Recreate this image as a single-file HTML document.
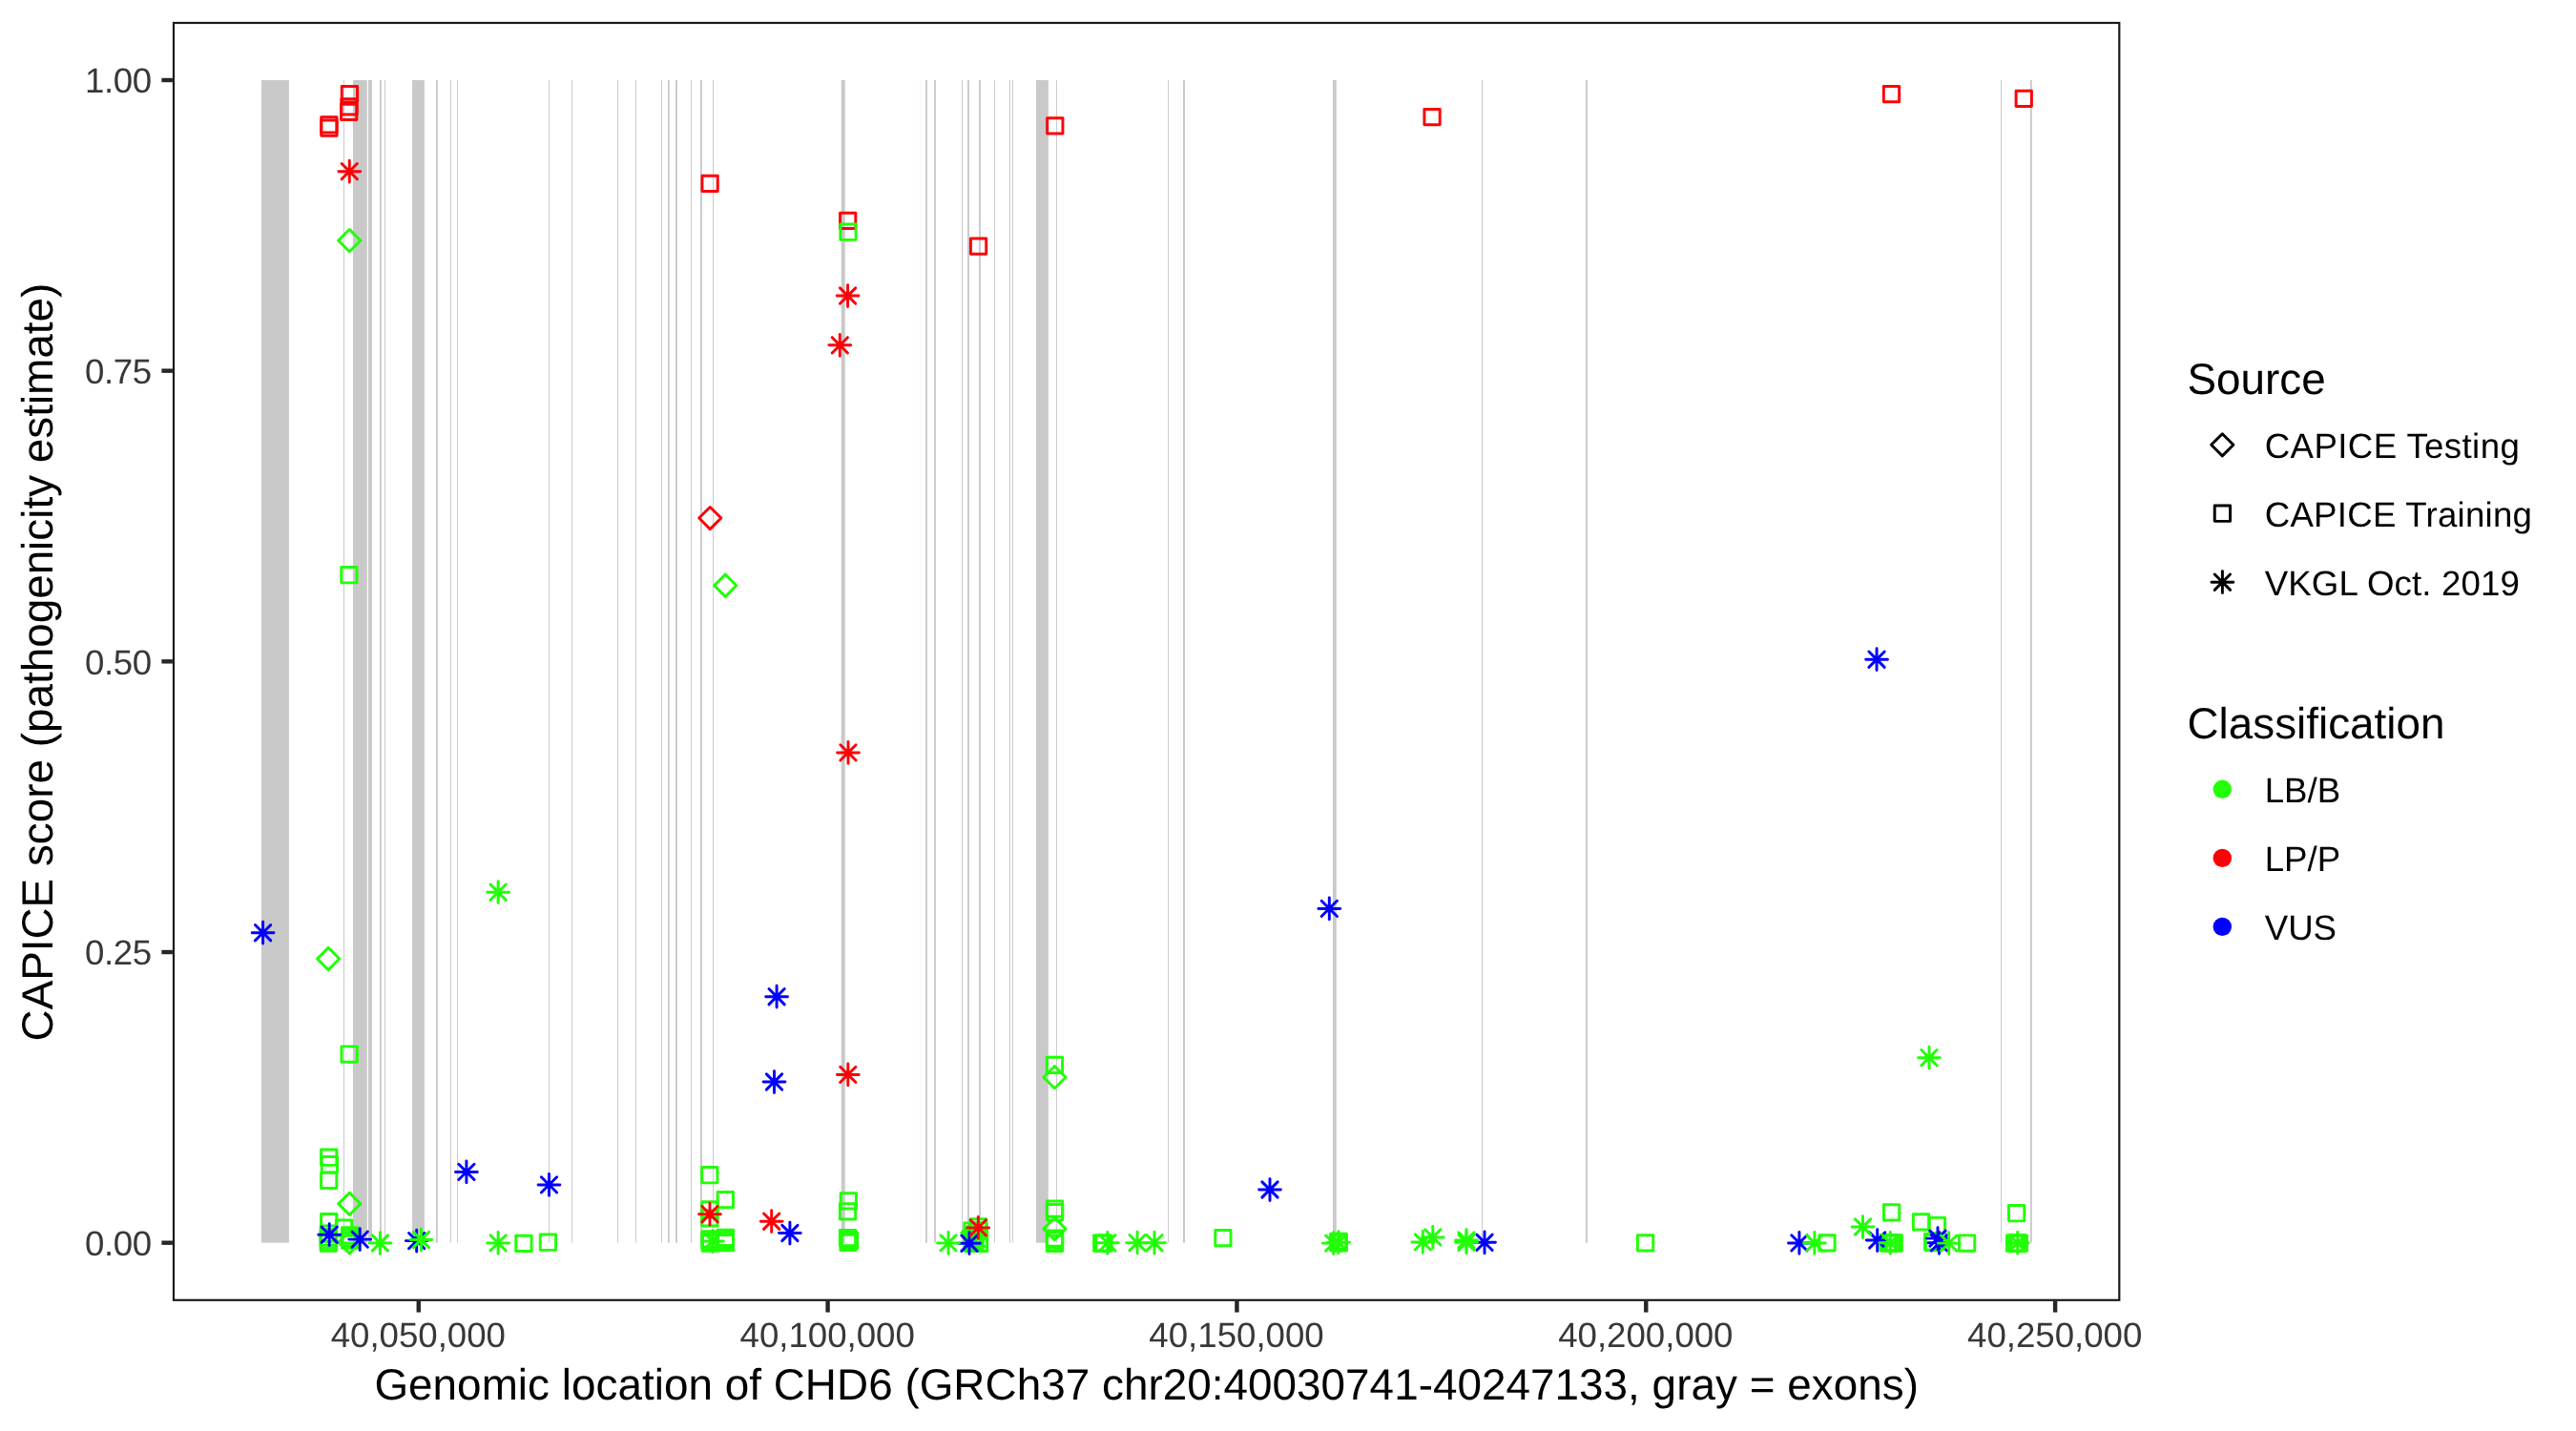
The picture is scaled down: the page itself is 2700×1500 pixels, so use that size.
<!DOCTYPE html>
<html><head><meta charset="utf-8"><title>CAPICE CHD6</title>
<style>html,body{margin:0;padding:0;background:#fff;}svg{display:block;will-change:transform;}text{font-family:"Liberation Sans",sans-serif;text-rendering:geometricPrecision;}</style></head><body>
<svg width="2700" height="1500" viewBox="0 0 2700 1500">
<rect width="2700" height="1500" fill="#fff"/>
<g>
<rect x="274.00" y="84.00" width="28.90" height="1218.70" fill="#C9C9C9"/>
<rect x="360.00" y="84.00" width="1.00" height="1218.70" fill="#CBCBCB"/>
<rect x="370.00" y="84.00" width="14.80" height="1218.70" fill="#C9C9C9"/>
<rect x="386.00" y="84.00" width="4.00" height="1218.70" fill="#C9C9C9"/>
<rect x="398.00" y="84.00" width="1.80" height="1218.70" fill="#C9C9C9"/>
<rect x="403.00" y="84.00" width="1.00" height="1218.70" fill="#CBCBCB"/>
<rect x="432.00" y="84.00" width="12.90" height="1218.70" fill="#C9C9C9"/>
<rect x="457.00" y="84.00" width="1.80" height="1218.70" fill="#C9C9C9"/>
<rect x="472.00" y="84.00" width="1.00" height="1218.70" fill="#CBCBCB"/>
<rect x="479.00" y="84.00" width="1.00" height="1218.70" fill="#CBCBCB"/>
<rect x="575.00" y="84.00" width="1.00" height="1218.70" fill="#CBCBCB"/>
<rect x="599.00" y="84.00" width="1.00" height="1218.70" fill="#CBCBCB"/>
<rect x="647.00" y="84.00" width="1.00" height="1218.70" fill="#CBCBCB"/>
<rect x="666.00" y="84.00" width="1.00" height="1218.70" fill="#CBCBCB"/>
<rect x="693.00" y="84.00" width="1.00" height="1218.70" fill="#CBCBCB"/>
<rect x="700.00" y="84.00" width="1.75" height="1218.70" fill="#C9C9C9"/>
<rect x="708.00" y="84.00" width="1.90" height="1218.70" fill="#C9C9C9"/>
<rect x="724.00" y="84.00" width="1.00" height="1218.70" fill="#CBCBCB"/>
<rect x="734.00" y="84.00" width="1.90" height="1218.70" fill="#C9C9C9"/>
<rect x="747.00" y="84.00" width="1.00" height="1218.70" fill="#CBCBCB"/>
<rect x="881.75" y="84.00" width="4.00" height="1218.70" fill="#C9C9C9"/>
<rect x="970.00" y="84.00" width="1.90" height="1218.70" fill="#C9C9C9"/>
<rect x="979.00" y="84.00" width="1.90" height="1218.70" fill="#C9C9C9"/>
<rect x="1008.00" y="84.00" width="1.00" height="1218.70" fill="#CBCBCB"/>
<rect x="1014.00" y="84.00" width="1.90" height="1218.70" fill="#C9C9C9"/>
<rect x="1026.00" y="84.00" width="1.90" height="1218.70" fill="#C9C9C9"/>
<rect x="1042.00" y="84.00" width="1.00" height="1218.70" fill="#CBCBCB"/>
<rect x="1058.00" y="84.00" width="1.00" height="1218.70" fill="#CBCBCB"/>
<rect x="1061.00" y="84.00" width="1.00" height="1218.70" fill="#CBCBCB"/>
<rect x="1086.00" y="84.00" width="12.80" height="1218.70" fill="#C9C9C9"/>
<rect x="1107.00" y="84.00" width="1.00" height="1218.70" fill="#CBCBCB"/>
<rect x="1224.00" y="84.00" width="1.00" height="1218.70" fill="#CBCBCB"/>
<rect x="1240.00" y="84.00" width="2.00" height="1218.70" fill="#C9C9C9"/>
<rect x="1397.00" y="84.00" width="3.75" height="1218.70" fill="#C9C9C9"/>
<rect x="1553.00" y="84.00" width="1.00" height="1218.70" fill="#CBCBCB"/>
<rect x="1662.00" y="84.00" width="1.90" height="1218.70" fill="#C9C9C9"/>
<rect x="2097.00" y="84.00" width="1.00" height="1218.70" fill="#CBCBCB"/>
<rect x="2127.90" y="84.00" width="1.90" height="1218.70" fill="#C9C9C9"/>
<rect x="964.00" y="84.00" width="0.80" height="1218.70" fill="#F4F4F4"/>
</g>
<g>
<rect x="358.25" y="90.55" width="16.30" height="16.30" fill="none" stroke="#FB0207" stroke-width="2.95" stroke-linejoin="round"/>
<rect x="357.85" y="103.65" width="16.30" height="16.30" fill="none" stroke="#FB0207" stroke-width="2.95" stroke-linejoin="round"/>
<rect x="357.55" y="109.15" width="16.30" height="16.30" fill="none" stroke="#FB0207" stroke-width="2.95" stroke-linejoin="round"/>
<rect x="336.75" y="122.65" width="16.30" height="16.30" fill="none" stroke="#FB0207" stroke-width="2.95" stroke-linejoin="round"/>
<rect x="336.75" y="126.05" width="16.30" height="16.30" fill="none" stroke="#FB0207" stroke-width="2.95" stroke-linejoin="round"/>
<path d="M354.87 179.67H377.67M366.27 168.27V191.07M358.12 171.52L374.42 187.82M358.12 187.82L374.42 171.52" fill="none" stroke="#FB0207" stroke-width="2.95" stroke-linecap="round"/>
<path d="M354.67 252.16L366.27 240.56L377.87 252.16L366.27 263.76Z" fill="none" stroke="#21FF06" stroke-width="2.95" stroke-linejoin="round"/>
<rect x="735.95" y="184.25" width="16.30" height="16.30" fill="none" stroke="#FB0207" stroke-width="2.95" stroke-linejoin="round"/>
<rect x="880.53" y="223.25" width="16.30" height="16.30" fill="none" stroke="#FB0207" stroke-width="2.95" stroke-linejoin="round"/>
<rect x="880.85" y="235.05" width="16.30" height="16.30" fill="none" stroke="#21FF06" stroke-width="2.95" stroke-linejoin="round"/>
<rect x="1017.41" y="250.02" width="16.30" height="16.30" fill="none" stroke="#FB0207" stroke-width="2.95" stroke-linejoin="round"/>
<rect x="1097.65" y="123.65" width="16.30" height="16.30" fill="none" stroke="#FB0207" stroke-width="2.95" stroke-linejoin="round"/>
<path d="M877.17 310.06H899.97M888.57 298.66V321.46M880.42 301.91L896.72 318.21M880.42 318.21L896.72 301.91" fill="none" stroke="#FB0207" stroke-width="2.95" stroke-linecap="round"/>
<path d="M868.90 361.83H891.70M880.30 350.43V373.23M872.15 353.68L888.45 369.98M872.15 369.98L888.45 353.68" fill="none" stroke="#FB0207" stroke-width="2.95" stroke-linecap="round"/>
<rect x="1492.90" y="114.45" width="16.30" height="16.30" fill="none" stroke="#FB0207" stroke-width="2.95" stroke-linejoin="round"/>
<rect x="1974.35" y="90.41" width="16.30" height="16.30" fill="none" stroke="#FB0207" stroke-width="2.95" stroke-linejoin="round"/>
<rect x="2113.10" y="95.25" width="16.30" height="16.30" fill="none" stroke="#FB0207" stroke-width="2.95" stroke-linejoin="round"/>
<rect x="357.75" y="594.55" width="16.30" height="16.30" fill="none" stroke="#21FF06" stroke-width="2.95" stroke-linejoin="round"/>
<path d="M732.68 543.06L744.28 531.46L755.88 543.06L744.28 554.66Z" fill="none" stroke="#FB0207" stroke-width="2.95" stroke-linejoin="round"/>
<path d="M748.60 613.75L760.20 602.15L771.80 613.75L760.20 625.35Z" fill="none" stroke="#21FF06" stroke-width="2.95" stroke-linejoin="round"/>
<path d="M1955.65 691.20H1978.45M1967.05 679.80V702.60M1958.90 683.05L1975.20 699.35M1958.90 699.35L1975.20 683.05" fill="none" stroke="#0000FF" stroke-width="2.95" stroke-linecap="round"/>
<path d="M264.20 977.70H287.00M275.60 966.30V989.10M267.45 969.55L283.75 985.85M267.45 985.85L283.75 969.55" fill="none" stroke="#0000FF" stroke-width="2.95" stroke-linecap="round"/>
<path d="M332.55 1005.00L344.15 993.40L355.75 1005.00L344.15 1016.60Z" fill="none" stroke="#21FF06" stroke-width="2.95" stroke-linejoin="round"/>
<path d="M510.70 935.20H533.50M522.10 923.80V946.60M513.95 927.05L530.25 943.35M513.95 943.35L530.25 927.05" fill="none" stroke="#21FF06" stroke-width="2.95" stroke-linecap="round"/>
<rect x="357.95" y="1096.85" width="16.30" height="16.30" fill="none" stroke="#21FF06" stroke-width="2.95" stroke-linejoin="round"/>
<path d="M802.70 1044.70H825.50M814.10 1033.30V1056.10M805.95 1036.55L822.25 1052.85M805.95 1052.85L822.25 1036.55" fill="none" stroke="#0000FF" stroke-width="2.95" stroke-linecap="round"/>
<path d="M877.60 788.90H900.40M889.00 777.50V800.30M880.85 780.75L897.15 797.05M880.85 797.05L897.15 780.75" fill="none" stroke="#FB0207" stroke-width="2.95" stroke-linecap="round"/>
<path d="M1381.90 952.40H1404.70M1393.30 941.00V963.80M1385.15 944.25L1401.45 960.55M1385.15 960.55L1401.45 944.25" fill="none" stroke="#0000FF" stroke-width="2.95" stroke-linecap="round"/>
<path d="M2010.60 1108.70H2033.40M2022.00 1097.30V1120.10M2013.85 1100.55L2030.15 1116.85M2013.85 1116.85L2030.15 1100.55" fill="none" stroke="#21FF06" stroke-width="2.95" stroke-linecap="round"/>
<path d="M800.10 1134.00H822.90M811.50 1122.60V1145.40M803.35 1125.85L819.65 1142.15M803.35 1142.15L819.65 1125.85" fill="none" stroke="#0000FF" stroke-width="2.95" stroke-linecap="round"/>
<path d="M877.40 1126.40H900.20M888.80 1115.00V1137.80M880.65 1118.25L896.95 1134.55M880.65 1134.55L896.95 1118.25" fill="none" stroke="#FB0207" stroke-width="2.95" stroke-linecap="round"/>
<rect x="1097.25" y="1108.25" width="16.30" height="16.30" fill="none" stroke="#21FF06" stroke-width="2.95" stroke-linejoin="round"/>
<path d="M1093.80 1129.20L1105.40 1117.60L1117.00 1129.20L1105.40 1140.80Z" fill="none" stroke="#21FF06" stroke-width="2.95" stroke-linejoin="round"/>
<rect x="336.55" y="1205.05" width="16.30" height="16.30" fill="none" stroke="#21FF06" stroke-width="2.95" stroke-linejoin="round"/>
<rect x="336.55" y="1229.25" width="16.30" height="16.30" fill="none" stroke="#21FF06" stroke-width="2.95" stroke-linejoin="round"/>
<rect x="336.55" y="1272.55" width="16.30" height="16.30" fill="none" stroke="#21FF06" stroke-width="2.95" stroke-linejoin="round"/>
<rect x="336.15" y="1284.85" width="16.30" height="16.30" fill="none" stroke="#21FF06" stroke-width="2.95" stroke-linejoin="round"/>
<rect x="336.15" y="1288.85" width="16.30" height="16.30" fill="none" stroke="#21FF06" stroke-width="2.95" stroke-linejoin="round"/>
<rect x="336.15" y="1291.85" width="16.30" height="16.30" fill="none" stroke="#21FF06" stroke-width="2.95" stroke-linejoin="round"/>
<rect x="336.15" y="1294.85" width="16.30" height="16.30" fill="none" stroke="#21FF06" stroke-width="2.95" stroke-linejoin="round"/>
<rect x="337.25" y="1212.55" width="16.30" height="16.30" fill="none" stroke="#21FF06" stroke-width="2.95" stroke-linejoin="round"/>
<path d="M354.70 1261.85L366.30 1250.25L377.90 1261.85L366.30 1273.45Z" fill="none" stroke="#21FF06" stroke-width="2.95" stroke-linejoin="round"/>
<rect x="352.35" y="1278.85" width="16.30" height="16.30" fill="none" stroke="#21FF06" stroke-width="2.95" stroke-linejoin="round"/>
<rect x="358.45" y="1286.75" width="16.30" height="16.30" fill="none" stroke="#21FF06" stroke-width="2.95" stroke-linejoin="round"/>
<rect x="358.45" y="1289.35" width="16.30" height="16.30" fill="none" stroke="#21FF06" stroke-width="2.95" stroke-linejoin="round"/>
<rect x="358.45" y="1292.05" width="16.30" height="16.30" fill="none" stroke="#21FF06" stroke-width="2.95" stroke-linejoin="round"/>
<path d="M354.70 1302.30L366.30 1290.70L377.90 1302.30L366.30 1313.90Z" fill="none" stroke="#21FF06" stroke-width="2.95" stroke-linejoin="round"/>
<rect x="540.75" y="1295.25" width="16.30" height="16.30" fill="none" stroke="#21FF06" stroke-width="2.95" stroke-linejoin="round"/>
<rect x="566.25" y="1294.05" width="16.30" height="16.30" fill="none" stroke="#21FF06" stroke-width="2.95" stroke-linejoin="round"/>
<rect x="735.65" y="1223.55" width="16.30" height="16.30" fill="none" stroke="#21FF06" stroke-width="2.95" stroke-linejoin="round"/>
<rect x="752.15" y="1249.45" width="16.30" height="16.30" fill="none" stroke="#21FF06" stroke-width="2.95" stroke-linejoin="round"/>
<rect x="735.75" y="1259.65" width="16.30" height="16.30" fill="none" stroke="#21FF06" stroke-width="2.95" stroke-linejoin="round"/>
<rect x="735.75" y="1268.75" width="16.30" height="16.30" fill="none" stroke="#21FF06" stroke-width="2.95" stroke-linejoin="round"/>
<rect x="736.15" y="1290.75" width="16.30" height="16.30" fill="none" stroke="#21FF06" stroke-width="2.95" stroke-linejoin="round"/>
<rect x="736.15" y="1292.35" width="16.30" height="16.30" fill="none" stroke="#21FF06" stroke-width="2.95" stroke-linejoin="round"/>
<rect x="736.15" y="1293.85" width="16.30" height="16.30" fill="none" stroke="#21FF06" stroke-width="2.95" stroke-linejoin="round"/>
<rect x="736.15" y="1294.85" width="16.30" height="16.30" fill="none" stroke="#21FF06" stroke-width="2.95" stroke-linejoin="round"/>
<rect x="752.25" y="1289.25" width="16.30" height="16.30" fill="none" stroke="#21FF06" stroke-width="2.95" stroke-linejoin="round"/>
<rect x="752.25" y="1290.85" width="16.30" height="16.30" fill="none" stroke="#21FF06" stroke-width="2.95" stroke-linejoin="round"/>
<rect x="752.25" y="1292.85" width="16.30" height="16.30" fill="none" stroke="#21FF06" stroke-width="2.95" stroke-linejoin="round"/>
<rect x="752.25" y="1294.55" width="16.30" height="16.30" fill="none" stroke="#21FF06" stroke-width="2.95" stroke-linejoin="round"/>
<rect x="881.15" y="1250.75" width="16.30" height="16.30" fill="none" stroke="#21FF06" stroke-width="2.95" stroke-linejoin="round"/>
<rect x="880.35" y="1261.65" width="16.30" height="16.30" fill="none" stroke="#21FF06" stroke-width="2.95" stroke-linejoin="round"/>
<rect x="880.35" y="1289.35" width="16.30" height="16.30" fill="none" stroke="#21FF06" stroke-width="2.95" stroke-linejoin="round"/>
<rect x="881.35" y="1290.85" width="16.30" height="16.30" fill="none" stroke="#21FF06" stroke-width="2.95" stroke-linejoin="round"/>
<rect x="882.35" y="1292.35" width="16.30" height="16.30" fill="none" stroke="#21FF06" stroke-width="2.95" stroke-linejoin="round"/>
<rect x="880.85" y="1294.15" width="16.30" height="16.30" fill="none" stroke="#21FF06" stroke-width="2.95" stroke-linejoin="round"/>
<rect x="1017.45" y="1277.65" width="16.30" height="16.30" fill="none" stroke="#21FF06" stroke-width="2.95" stroke-linejoin="round"/>
<rect x="1010.85" y="1281.85" width="16.30" height="16.30" fill="none" stroke="#21FF06" stroke-width="2.95" stroke-linejoin="round"/>
<rect x="1017.85" y="1281.85" width="16.30" height="16.30" fill="none" stroke="#21FF06" stroke-width="2.95" stroke-linejoin="round"/>
<rect x="1013.85" y="1285.85" width="16.30" height="16.30" fill="none" stroke="#21FF06" stroke-width="2.95" stroke-linejoin="round"/>
<rect x="1018.35" y="1289.85" width="16.30" height="16.30" fill="none" stroke="#21FF06" stroke-width="2.95" stroke-linejoin="round"/>
<rect x="1010.85" y="1289.85" width="16.30" height="16.30" fill="none" stroke="#21FF06" stroke-width="2.95" stroke-linejoin="round"/>
<rect x="1013.85" y="1292.85" width="16.30" height="16.30" fill="none" stroke="#21FF06" stroke-width="2.95" stroke-linejoin="round"/>
<rect x="1018.35" y="1295.25" width="16.30" height="16.30" fill="none" stroke="#21FF06" stroke-width="2.95" stroke-linejoin="round"/>
<rect x="1011.35" y="1295.25" width="16.30" height="16.30" fill="none" stroke="#21FF06" stroke-width="2.95" stroke-linejoin="round"/>
<path d="M1007.80 1292.20L1019.40 1280.60L1031.00 1292.20L1019.40 1303.80Z" fill="none" stroke="#21FF06" stroke-width="2.95" stroke-linejoin="round"/>
<rect x="1097.35" y="1258.95" width="16.30" height="16.30" fill="none" stroke="#21FF06" stroke-width="2.95" stroke-linejoin="round"/>
<rect x="1097.35" y="1262.55" width="16.30" height="16.30" fill="none" stroke="#21FF06" stroke-width="2.95" stroke-linejoin="round"/>
<path d="M1093.80 1288.10L1105.40 1276.50L1117.00 1288.10L1105.40 1299.70Z" fill="none" stroke="#21FF06" stroke-width="2.95" stroke-linejoin="round"/>
<rect x="1097.35" y="1289.95" width="16.30" height="16.30" fill="none" stroke="#21FF06" stroke-width="2.95" stroke-linejoin="round"/>
<rect x="1097.35" y="1291.85" width="16.30" height="16.30" fill="none" stroke="#21FF06" stroke-width="2.95" stroke-linejoin="round"/>
<rect x="1097.35" y="1295.15" width="16.30" height="16.30" fill="none" stroke="#21FF06" stroke-width="2.95" stroke-linejoin="round"/>
<rect x="1146.55" y="1294.95" width="16.30" height="16.30" fill="none" stroke="#21FF06" stroke-width="2.95" stroke-linejoin="round"/>
<rect x="1148.75" y="1294.95" width="16.30" height="16.30" fill="none" stroke="#21FF06" stroke-width="2.95" stroke-linejoin="round"/>
<rect x="1273.75" y="1289.45" width="16.30" height="16.30" fill="none" stroke="#21FF06" stroke-width="2.95" stroke-linejoin="round"/>
<rect x="1394.85" y="1293.85" width="16.30" height="16.30" fill="none" stroke="#21FF06" stroke-width="2.95" stroke-linejoin="round"/>
<rect x="1394.75" y="1293.15" width="16.30" height="16.30" fill="none" stroke="#21FF06" stroke-width="2.95" stroke-linejoin="round"/>
<rect x="1395.05" y="1294.65" width="16.30" height="16.30" fill="none" stroke="#21FF06" stroke-width="2.95" stroke-linejoin="round"/>
<rect x="1716.45" y="1294.75" width="16.30" height="16.30" fill="none" stroke="#21FF06" stroke-width="2.95" stroke-linejoin="round"/>
<rect x="1906.85" y="1294.75" width="16.30" height="16.30" fill="none" stroke="#21FF06" stroke-width="2.95" stroke-linejoin="round"/>
<rect x="1974.45" y="1262.75" width="16.30" height="16.30" fill="none" stroke="#21FF06" stroke-width="2.95" stroke-linejoin="round"/>
<rect x="1970.85" y="1294.65" width="16.30" height="16.30" fill="none" stroke="#21FF06" stroke-width="2.95" stroke-linejoin="round"/>
<rect x="1972.85" y="1294.65" width="16.30" height="16.30" fill="none" stroke="#21FF06" stroke-width="2.95" stroke-linejoin="round"/>
<rect x="1974.85" y="1294.65" width="16.30" height="16.30" fill="none" stroke="#21FF06" stroke-width="2.95" stroke-linejoin="round"/>
<rect x="1977.05" y="1294.65" width="16.30" height="16.30" fill="none" stroke="#21FF06" stroke-width="2.95" stroke-linejoin="round"/>
<rect x="2005.35" y="1272.75" width="16.30" height="16.30" fill="none" stroke="#21FF06" stroke-width="2.95" stroke-linejoin="round"/>
<rect x="2022.25" y="1276.35" width="16.30" height="16.30" fill="none" stroke="#21FF06" stroke-width="2.95" stroke-linejoin="round"/>
<rect x="2017.55" y="1293.55" width="16.30" height="16.30" fill="none" stroke="#21FF06" stroke-width="2.95" stroke-linejoin="round"/>
<rect x="2018.35" y="1294.35" width="16.30" height="16.30" fill="none" stroke="#21FF06" stroke-width="2.95" stroke-linejoin="round"/>
<rect x="2053.45" y="1294.85" width="16.30" height="16.30" fill="none" stroke="#21FF06" stroke-width="2.95" stroke-linejoin="round"/>
<rect x="2105.45" y="1263.55" width="16.30" height="16.30" fill="none" stroke="#21FF06" stroke-width="2.95" stroke-linejoin="round"/>
<rect x="2103.45" y="1294.85" width="16.30" height="16.30" fill="none" stroke="#21FF06" stroke-width="2.95" stroke-linejoin="round"/>
<rect x="2104.85" y="1294.85" width="16.30" height="16.30" fill="none" stroke="#21FF06" stroke-width="2.95" stroke-linejoin="round"/>
<rect x="2106.35" y="1294.85" width="16.30" height="16.30" fill="none" stroke="#21FF06" stroke-width="2.95" stroke-linejoin="round"/>
<rect x="2108.15" y="1294.85" width="16.30" height="16.30" fill="none" stroke="#21FF06" stroke-width="2.95" stroke-linejoin="round"/>
<path d="M333.80 1294.20H356.60M345.20 1282.80V1305.60M337.05 1286.05L353.35 1302.35M337.05 1302.35L353.35 1286.05" fill="none" stroke="#0000FF" stroke-width="2.95" stroke-linecap="round"/>
<path d="M365.80 1299.10H388.60M377.20 1287.70V1310.50M369.05 1290.95L385.35 1307.25M369.05 1307.25L385.35 1290.95" fill="none" stroke="#0000FF" stroke-width="2.95" stroke-linecap="round"/>
<path d="M425.30 1300.60H448.10M436.70 1289.20V1312.00M428.55 1292.45L444.85 1308.75M428.55 1308.75L444.85 1292.45" fill="none" stroke="#0000FF" stroke-width="2.95" stroke-linecap="round"/>
<path d="M477.50 1228.40H500.30M488.90 1217.00V1239.80M480.75 1220.25L497.05 1236.55M480.75 1236.55L497.05 1220.25" fill="none" stroke="#0000FF" stroke-width="2.95" stroke-linecap="round"/>
<path d="M564.10 1241.90H586.90M575.50 1230.50V1253.30M567.35 1233.75L583.65 1250.05M567.35 1250.05L583.65 1233.75" fill="none" stroke="#0000FF" stroke-width="2.95" stroke-linecap="round"/>
<path d="M816.50 1292.50H839.30M827.90 1281.10V1303.90M819.75 1284.35L836.05 1300.65M819.75 1300.65L836.05 1284.35" fill="none" stroke="#0000FF" stroke-width="2.95" stroke-linecap="round"/>
<path d="M1004.60 1303.20H1027.40M1016.00 1291.80V1314.60M1007.85 1295.05L1024.15 1311.35M1007.85 1311.35L1024.15 1295.05" fill="none" stroke="#0000FF" stroke-width="2.95" stroke-linecap="round"/>
<path d="M1319.60 1247.00H1342.40M1331.00 1235.60V1258.40M1322.85 1238.85L1339.15 1255.15M1322.85 1255.15L1339.15 1238.85" fill="none" stroke="#0000FF" stroke-width="2.95" stroke-linecap="round"/>
<path d="M1544.60 1302.30H1567.40M1556.00 1290.90V1313.70M1547.85 1294.15L1564.15 1310.45M1547.85 1310.45L1564.15 1294.15" fill="none" stroke="#0000FF" stroke-width="2.95" stroke-linecap="round"/>
<path d="M1874.50 1302.90H1897.30M1885.90 1291.50V1314.30M1877.75 1294.75L1894.05 1311.05M1877.75 1311.05L1894.05 1294.75" fill="none" stroke="#0000FF" stroke-width="2.95" stroke-linecap="round"/>
<path d="M1956.30 1300.00H1979.10M1967.70 1288.60V1311.40M1959.55 1291.85L1975.85 1308.15M1959.55 1308.15L1975.85 1291.85" fill="none" stroke="#0000FF" stroke-width="2.95" stroke-linecap="round"/>
<path d="M2019.60 1298.10H2042.40M2031.00 1286.70V1309.50M2022.85 1289.95L2039.15 1306.25M2022.85 1306.25L2039.15 1289.95" fill="none" stroke="#0000FF" stroke-width="2.95" stroke-linecap="round"/>
<path d="M2021.10 1302.80H2043.90M2032.50 1291.40V1314.20M2024.35 1294.65L2040.65 1310.95M2024.35 1310.95L2040.65 1294.65" fill="none" stroke="#0000FF" stroke-width="2.95" stroke-linecap="round"/>
<path d="M387.00 1303.00H409.80M398.40 1291.60V1314.40M390.25 1294.85L406.55 1311.15M390.25 1311.15L406.55 1294.85" fill="none" stroke="#21FF06" stroke-width="2.95" stroke-linecap="round"/>
<path d="M430.00 1299.50H452.80M441.40 1288.10V1310.90M433.25 1291.35L449.55 1307.65M433.25 1307.65L449.55 1291.35" fill="none" stroke="#21FF06" stroke-width="2.95" stroke-linecap="round"/>
<path d="M510.70 1302.90H533.50M522.10 1291.50V1314.30M513.95 1294.75L530.25 1311.05M513.95 1311.05L530.25 1294.75" fill="none" stroke="#21FF06" stroke-width="2.95" stroke-linecap="round"/>
<path d="M735.50 1301.00H758.30M746.90 1289.60V1312.40M738.75 1292.85L755.05 1309.15M738.75 1309.15L755.05 1292.85" fill="none" stroke="#21FF06" stroke-width="2.95" stroke-linecap="round"/>
<path d="M982.60 1302.90H1005.40M994.00 1291.50V1314.30M985.85 1294.75L1002.15 1311.05M985.85 1311.05L1002.15 1294.75" fill="none" stroke="#21FF06" stroke-width="2.95" stroke-linecap="round"/>
<path d="M1149.40 1302.80H1172.20M1160.80 1291.40V1314.20M1152.65 1294.65L1168.95 1310.95M1152.65 1310.95L1168.95 1294.65" fill="none" stroke="#21FF06" stroke-width="2.95" stroke-linecap="round"/>
<path d="M1180.60 1302.70H1203.40M1192.00 1291.30V1314.10M1183.85 1294.55L1200.15 1310.85M1183.85 1310.85L1200.15 1294.55" fill="none" stroke="#21FF06" stroke-width="2.95" stroke-linecap="round"/>
<path d="M1198.60 1302.70H1221.40M1210.00 1291.30V1314.10M1201.85 1294.55L1218.15 1310.85M1201.85 1310.85L1218.15 1294.55" fill="none" stroke="#21FF06" stroke-width="2.95" stroke-linecap="round"/>
<path d="M1386.30 1303.10H1409.10M1397.70 1291.70V1314.50M1389.55 1294.95L1405.85 1311.25M1389.55 1311.25L1405.85 1294.95" fill="none" stroke="#21FF06" stroke-width="2.95" stroke-linecap="round"/>
<path d="M1391.60 1302.20H1414.40M1403.00 1290.80V1313.60M1394.85 1294.05L1411.15 1310.35M1394.85 1310.35L1411.15 1294.05" fill="none" stroke="#21FF06" stroke-width="2.95" stroke-linecap="round"/>
<path d="M1479.90 1301.90H1502.70M1491.30 1290.50V1313.30M1483.15 1293.75L1499.45 1310.05M1483.15 1310.05L1499.45 1293.75" fill="none" stroke="#21FF06" stroke-width="2.95" stroke-linecap="round"/>
<path d="M1490.40 1296.90H1513.20M1501.80 1285.50V1308.30M1493.65 1288.75L1509.95 1305.05M1493.65 1305.05L1509.95 1288.75" fill="none" stroke="#21FF06" stroke-width="2.95" stroke-linecap="round"/>
<path d="M1525.60 1300.00H1548.40M1537.00 1288.60V1311.40M1528.85 1291.85L1545.15 1308.15M1528.85 1308.15L1545.15 1291.85" fill="none" stroke="#21FF06" stroke-width="2.95" stroke-linecap="round"/>
<path d="M1525.60 1302.30H1548.40M1537.00 1290.90V1313.70M1528.85 1294.15L1545.15 1310.45M1528.85 1310.45L1545.15 1294.15" fill="none" stroke="#21FF06" stroke-width="2.95" stroke-linecap="round"/>
<path d="M1890.50 1302.90H1913.30M1901.90 1291.50V1314.30M1893.75 1294.75L1910.05 1311.05M1893.75 1311.05L1910.05 1294.75" fill="none" stroke="#21FF06" stroke-width="2.95" stroke-linecap="round"/>
<path d="M1941.10 1286.00H1963.90M1952.50 1274.60V1297.40M1944.35 1277.85L1960.65 1294.15M1944.35 1294.15L1960.65 1277.85" fill="none" stroke="#21FF06" stroke-width="2.95" stroke-linecap="round"/>
<path d="M1969.90 1302.80H1992.70M1981.30 1291.40V1314.20M1973.15 1294.65L1989.45 1310.95M1973.15 1310.95L1989.45 1294.65" fill="none" stroke="#21FF06" stroke-width="2.95" stroke-linecap="round"/>
<path d="M2031.30 1303.10H2054.10M2042.70 1291.70V1314.50M2034.55 1294.95L2050.85 1311.25M2034.55 1311.25L2050.85 1294.95" fill="none" stroke="#21FF06" stroke-width="2.95" stroke-linecap="round"/>
<path d="M2103.30 1302.90H2126.10M2114.70 1291.50V1314.30M2106.55 1294.75L2122.85 1311.05M2106.55 1311.05L2122.85 1294.75" fill="none" stroke="#21FF06" stroke-width="2.95" stroke-linecap="round"/>
<path d="M732.60 1272.70H755.40M744.00 1261.30V1284.10M735.85 1264.55L752.15 1280.85M735.85 1280.85L752.15 1264.55" fill="none" stroke="#FB0207" stroke-width="2.95" stroke-linecap="round"/>
<path d="M797.30 1280.20H820.10M808.70 1268.80V1291.60M800.55 1272.05L816.85 1288.35M800.55 1288.35L816.85 1272.05" fill="none" stroke="#FB0207" stroke-width="2.95" stroke-linecap="round"/>
<path d="M1013.90 1286.90H1036.70M1025.30 1275.50V1298.30M1017.15 1278.75L1033.45 1295.05M1017.15 1295.05L1033.45 1278.75" fill="none" stroke="#FB0207" stroke-width="2.95" stroke-linecap="round"/>
</g>
<rect x="182.0" y="24.0" width="2039.30" height="1338.80" fill="none" stroke="#1A1A1A" stroke-width="2.2"/>
<rect x="169.4" y="1300.50" width="11.50" height="4.4" fill="#262626"/>
<text x="159.1" y="1315.90" font-size="36.67" fill="#383838" text-anchor="end" textLength="70.1" lengthAdjust="spacing">0.00</text>
<rect x="169.4" y="995.83" width="11.50" height="4.4" fill="#262626"/>
<text x="159.1" y="1011.23" font-size="36.67" fill="#383838" text-anchor="end" textLength="70.1" lengthAdjust="spacing">0.25</text>
<rect x="169.4" y="691.15" width="11.50" height="4.4" fill="#262626"/>
<text x="159.1" y="706.55" font-size="36.67" fill="#383838" text-anchor="end" textLength="70.1" lengthAdjust="spacing">0.50</text>
<rect x="169.4" y="386.47" width="11.50" height="4.4" fill="#262626"/>
<text x="159.1" y="401.87" font-size="36.67" fill="#383838" text-anchor="end" textLength="70.1" lengthAdjust="spacing">0.75</text>
<rect x="169.4" y="81.80" width="11.50" height="4.4" fill="#262626"/>
<text x="159.1" y="97.20" font-size="36.67" fill="#383838" text-anchor="end" textLength="70.1" lengthAdjust="spacing">1.00</text>
<rect x="436.55" y="1363.90" width="4.4" height="11.7" fill="#262626"/>
<text x="438.35" y="1412.2" font-size="36.67" fill="#383838" text-anchor="middle" textLength="183.3" lengthAdjust="spacing">40,050,000</text>
<rect x="865.39" y="1363.90" width="4.4" height="11.7" fill="#262626"/>
<text x="867.19" y="1412.2" font-size="36.67" fill="#383838" text-anchor="middle" textLength="183.3" lengthAdjust="spacing">40,100,000</text>
<rect x="1294.22" y="1363.90" width="4.4" height="11.7" fill="#262626"/>
<text x="1296.02" y="1412.2" font-size="36.67" fill="#383838" text-anchor="middle" textLength="183.3" lengthAdjust="spacing">40,150,000</text>
<rect x="1723.06" y="1363.90" width="4.4" height="11.7" fill="#262626"/>
<text x="1724.86" y="1412.2" font-size="36.67" fill="#383838" text-anchor="middle" textLength="183.3" lengthAdjust="spacing">40,200,000</text>
<rect x="2151.90" y="1363.90" width="4.4" height="11.7" fill="#262626"/>
<text x="2153.70" y="1412.2" font-size="36.67" fill="#383838" text-anchor="middle" textLength="183.3" lengthAdjust="spacing">40,250,000</text>
<text x="1201.65" y="1466.6" font-size="45.83" fill="#000" text-anchor="middle" textLength="1618.5" lengthAdjust="spacing">Genomic location of CHD6 (GRCh37 chr20:40030741-40247133, gray = exons)</text>
<text transform="translate(55 694.10) rotate(-90)" font-size="45.83" fill="#000" text-anchor="middle">CAPICE score (pathogenicity estimate)</text>
<text x="2292.5" y="413.0" font-size="45.83" fill="#000">Source</text>
<path d="M2317.70 466.30L2329.30 454.70L2340.90 466.30L2329.30 477.90Z" fill="none" stroke="#000000" stroke-width="2.95" stroke-linejoin="round"/>
<rect x="2321.25" y="530.05" width="16.30" height="16.30" fill="none" stroke="#000000" stroke-width="2.95" stroke-linejoin="round"/>
<path d="M2318.00 610.20H2340.80M2329.40 598.80V621.60M2321.25 602.05L2337.55 618.35M2321.25 618.35L2337.55 602.05" fill="none" stroke="#000000" stroke-width="2.95" stroke-linecap="round"/>
<text x="2373.7" y="479.7" font-size="36.67" fill="#000" textLength="267.1" lengthAdjust="spacing">CAPICE Testing</text>
<text x="2373.7" y="551.7" font-size="36.67" fill="#000" textLength="280.3" lengthAdjust="spacing">CAPICE Training</text>
<text x="2373.7" y="623.7" font-size="36.67" fill="#000" textLength="267.2" lengthAdjust="spacing">VKGL Oct. 2019</text>
<text x="2292.5" y="774.1" font-size="45.83" fill="#000">Classification</text>
<circle cx="2329.30" cy="827.30" r="9.7" fill="#21FF06"/>
<text x="2373.7" y="840.7" font-size="36.67" fill="#000">LB/B</text>
<circle cx="2329.30" cy="899.40" r="9.7" fill="#FB0207"/>
<text x="2373.7" y="912.8" font-size="36.67" fill="#000">LP/P</text>
<circle cx="2329.30" cy="971.40" r="9.7" fill="#0000FF"/>
<text x="2373.7" y="984.8" font-size="36.67" fill="#000">VUS</text>
</svg></body></html>
